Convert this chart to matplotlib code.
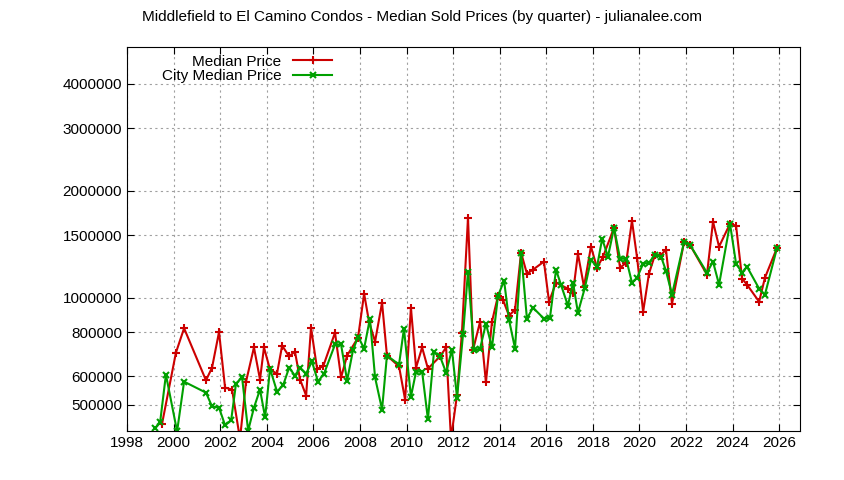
import matplotlib
matplotlib.use("Agg")
import matplotlib.pyplot as plt
from matplotlib.ticker import FixedLocator, FixedFormatter, NullLocator

# Median price (area)
red_years = [1999.50, 2000.10, 2000.45, 2001.39, 2001.65, 2001.95, 2002.21, 2002.51, 2002.85, 2003.11,
             2003.45, 2003.71, 2003.88, 2004.14, 2004.44, 2004.66, 2004.96, 2005.21, 2005.43, 2005.69,
             2005.90, 2006.16, 2006.42, 2006.93, 2007.19, 2007.45, 2007.92, 2008.18, 2008.39, 2008.65,
             2008.95, 2009.16, 2009.68, 2009.94, 2010.19, 2010.41, 2010.67, 2010.92, 2011.44, 2011.70,
             2011.91, 2012.17, 2012.38, 2012.64, 2012.86, 2013.16, 2013.41, 2013.67, 2013.93, 2014.14,
             2014.40, 2014.66, 2014.92, 2015.17, 2015.43, 2015.90, 2016.12, 2016.42, 2016.93, 2017.15,
             2017.36, 2017.62, 2017.92, 2018.18, 2018.44, 2018.91, 2019.17, 2019.43, 2019.68, 2019.90,
             2020.16, 2020.41, 2020.67, 2020.89, 2021.14, 2021.40, 2021.92, 2022.17, 2022.90, 2023.16,
             2023.42, 2023.89, 2024.15, 2024.41, 2024.62, 2025.14, 2025.39, 2025.91]
red_prices = [440000, 700000, 820000, 585000, 635000, 800000, 558000, 551000, 400000, 580000,
              724000, 588000, 724000, 627000, 611000, 733000, 683000, 705000, 588000, 530000,
              823000, 631000, 640000, 797000, 596000, 687000, 772000, 1026000, 856000, 752000,
              968000, 687000, 640000, 516000, 937000, 635000, 724000, 631000, 683000, 724000,
              400000, 533000, 797000, 1679000, 714000, 856000, 577000, 856000, 1013000, 987000,
              890000, 925000, 1339000, 1168000, 1199000, 1263000, 974000, 1102000, 1060000, 1033000,
              1330000, 1074000, 1392000, 1214000, 1304000, 1574000, 1214000, 1254000, 1647000, 1296000,
              913000, 1168000, 1321000, 1313000, 1365000, 962000, 1437000, 1409000, 1161000, 1637000,
              1392000, 1615000, 1594000, 1131000, 1088000, 974000, 1138000, 1382000]

# City median price
green_years = [1999.20, 1999.42, 1999.67, 2000.15, 2000.45, 2001.39, 2001.65, 2001.95, 2002.21, 2002.47,
               2002.68, 2002.94, 2003.20, 2003.45, 2003.71, 2003.93, 2004.14, 2004.44, 2004.70, 2004.96,
               2005.21, 2005.43, 2005.69, 2005.94, 2006.20, 2006.46, 2006.93, 2007.19, 2007.45, 2007.70,
               2007.92, 2008.18, 2008.43, 2008.65, 2008.95, 2009.16, 2009.68, 2009.89, 2010.19, 2010.41,
               2010.67, 2010.92, 2011.18, 2011.44, 2011.70, 2011.95, 2012.17, 2012.43, 2012.64, 2012.90,
               2013.16, 2013.41, 2013.67, 2013.93, 2014.19, 2014.40, 2014.66, 2014.92, 2015.17, 2015.43,
               2015.90, 2016.16, 2016.42, 2016.63, 2016.93, 2017.15, 2017.36, 2017.66, 2017.92, 2018.18,
               2018.40, 2018.65, 2018.91, 2019.17, 2019.43, 2019.68, 2019.90, 2020.16, 2020.41, 2020.67,
               2020.93, 2021.14, 2021.40, 2021.92, 2022.17, 2022.90, 2023.16, 2023.42, 2023.89, 2024.15,
               2024.41, 2024.62, 2025.14, 2025.39, 2025.91]
green_prices = [428000, 445000, 607000, 420000, 580000, 540000, 494000, 490000, 437000, 451000,
                573000, 596000, 422000, 490000, 551000, 460000, 631000, 544000, 566000, 635000,
                603000, 635000, 611000, 661000, 580000, 611000, 738000, 738000, 584000, 710000,
                777000, 719000, 873000, 596000, 484000, 687000, 648000, 818000, 526000, 619000,
                619000, 454000, 705000, 683000, 615000, 714000, 523000, 792000, 1184000, 710000,
                719000, 845000, 724000, 1013000, 1116000, 867000, 719000, 1339000, 873000, 937000,
                873000, 878000, 1199000, 1088000, 950000, 1102000, 907000, 1067000, 1279000, 1222000,
                1465000, 1304000, 1574000, 1287000, 1287000, 1102000, 1138000, 1246000, 1254000, 1321000,
                1304000, 1191000, 1020000, 1437000, 1409000, 1176000, 1263000, 1088000, 1615000, 1246000,
                1176000, 1222000, 1060000, 1020000, 1382000]

y_ticks = [500000, 600000, 800000, 1000000, 1500000, 2000000, 3000000, 4000000]
x_ticks = list(range(1998, 2027, 2))

plt.rcParams['font.family'] = ['Liberation Sans', 'DejaVu Sans']
fig = plt.figure(figsize=(8.44, 4.8), dpi=100)
ax = fig.add_axes([0.1505, 0.102, 0.7975, 0.8])

ax.plot(red_years, red_prices, color='#cc0000', lw=1.5, marker='+', ms=6, mew=1.5,
        label='Median Price')
ax.plot(green_years, green_prices, color='#00a000', lw=1.5, marker='x', ms=5, mew=1.5,
        label='City Median Price')

ax.set_yscale('log')
ax.set_ylim(421000, 5080000)
ax.set_xlim(1998, 2026.9)
ax.yaxis.set_major_locator(FixedLocator(y_ticks))
ax.yaxis.set_major_formatter(FixedFormatter([str(v) for v in y_ticks]))
ax.yaxis.set_minor_locator(NullLocator())
ax.set_xticks(x_ticks)
ax.tick_params(direction='in', top=True, right=True, labelsize=11, length=5)
ax.grid(True, color='#a0a0a0', linestyle=(0, (2, 3)), lw=0.8)
for s in ax.spines.values():
    s.set_linewidth(0.8)

ax.legend(loc='upper left', frameon=False, fontsize=11, markerfirst=False,
          handlelength=2.5, borderaxespad=0.1, labelspacing=0.05, bbox_to_anchor=(0.04, 1.0))
fig.text(0.5, 0.965, 'Middlefield to El Camino Condos - Median Sold Prices (by quarter) - julianalee.com',
         ha='center', va='center', fontsize=11)

fig.savefig('out.png', dpi=100)
